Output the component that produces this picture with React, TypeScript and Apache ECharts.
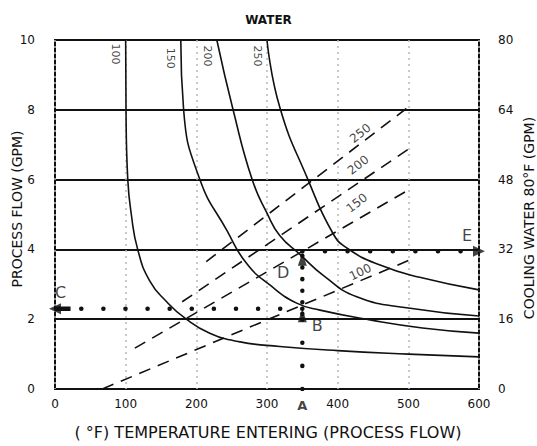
import React, { useEffect, useRef } from "react";
import * as echarts from "echarts";

// ---- Axis ticks ----
const xMin = 0, xMax = 600, xStep = 100;
const yMin = 0, yMax = 10, yStep = 2;
const y2Min = 0, y2Max = 80, y2Step = 16;

// ---- Solid curves (process flow vs temperature), labelled by curve value ----
const curveNames = ["100", "150", "200", "250"];
const curve100 = [[100, 10], [100.5, 8], [103, 6], [108, 5], [117, 4], [134, 3.1], [158, 2.5], [184, 2.03], [219, 1.6], [262, 1.35], [318, 1.22], [400, 1.1], [500, 1.0], [600, 0.92]];
const curve150 = [[178, 10], [182, 8], [205, 6], [243, 4.55], [271, 3.6], [304, 2.98], [342, 2.46], [375, 2.26], [446, 1.98], [520, 1.75], [600, 1.6]];
const curve200 = [[229, 10], [252, 8], [279, 6], [300, 5.04], [318, 4.4], [347, 3.85], [380, 3.25], [427, 2.64], [500, 2.32], [600, 2.09]];
const curve250 = [[300, 10], [318, 8.08], [358, 6], [393, 4.47], [413, 4.04], [460, 3.55], [516, 3.2], [600, 2.84]];
const curves = [curve100, curve150, curve200, curve250];
const curveLabelPos = [[85, 9.6], [163, 9.48], [216, 9.54], [286, 9.54]];

// ---- Dashed lines (cooling water) ----
const dashNames = ["100", "150", "200", "250"];
const dash100 = [[67, 0], [500, 3.68]];
const dash150 = [[113, 1.17], [500, 5.7]];
const dash200 = [[180, 2.5], [500, 6.87]];
const dash250 = [[214, 3.65], [500, 8.08]];
const dashes = [dash100, dash150, dash200, dash250];
const dashLabelPos = [[432, 3.35], [427, 5.33], [429, 6.42], [432, 7.33]];
const dashLabelRot = [26, 38, 38, 38];

// ---- Worked example path (A -> B -> C, A -> D -> E) ----
const pathC = [[350, 2.3], [0, 2.3]];
const pathE = [[350, 3.95], [600, 3.95]];
const pathALow = [[350, 0], [350, 2.15]];
const pathAHigh = [[350, 2.15], [350, 3.95]];
const arrowShaftC = [[22, 2.3], [0, 2.3]];
const upTriangles = [[350, 2.1], [350, 3.72]];
const arrowHeads = [{ value: [0, 2.3], rot: 90 }, { value: [600, 3.95], rot: -90 }];
const letters = [
  { name: "B", value: [371, 1.83] },
  { name: "C", value: [8, 2.77] },
  { name: "D", value: [323, 3.35] },
  { name: "E", value: [583, 4.41] },
];
const letterA = { name: "A", value: [350, 0] };

const FONT = "DejaVu Sans";
const INK = "#111111";

export default function App() {
  const ref = useRef<HTMLDivElement>(null);

  useEffect(() => {
    document.body.style.margin = "0";
    const chart = echarts.init(ref.current!, null, { renderer: "svg" });

    const solidSeries = curves.map((d, i) => ({
      type: "line",
      name: "curve" + curveNames[i],
      data: d,
      smooth: 0.5,
      symbol: "none",
      silent: true,
      lineStyle: { color: INK, width: 1.6 },
      z: 3,
    }));

    const dashSeries = dashes.map((d, i) => ({
      type: "line",
      name: "dash" + dashNames[i],
      data: d,
      symbol: "none",
      silent: true,
      lineStyle: { color: INK, width: 1.6, type: [12, 8] },
      z: 3,
    }));

    const dotLine = (d: number[][], gap: number) => ({
      type: "line",
      data: d,
      symbol: "none",
      silent: true,
      lineStyle: { color: INK, width: 4.5, type: [0.1, gap], cap: "round" },
      z: 4,
    });

    const textSeries = (data: any[], label: any) => ({
      type: "scatter",
      data,
      symbolSize: 0,
      silent: true,
      clip: false,
      itemStyle: { color: INK },
      label: {
        show: true,
        position: "inside",
        formatter: "{b}",
        fontFamily: FONT,
        color: INK,
        textBorderWidth: 0,
        ...label,
      },
      z: 7,
    });

    const option: any = {
      animation: false,
      title: {
        text: "WATER",
        left: "center",
        top: 9,
        textStyle: { fontFamily: FONT, fontSize: 12, fontWeight: "bold", color: INK },
      },
      grid: {
        left: 55,
        right: 58,
        top: 40,
        bottom: 57,
        show: true,
        borderColor: INK,
        borderWidth: 2,
        backgroundColor: "transparent",
      },
      xAxis: {
        type: "value",
        min: xMin,
        max: xMax,
        interval: xStep,
        axisLine: { show: false },
        axisTick: { show: false },
        axisLabel: { fontFamily: FONT, fontSize: 12, color: INK, margin: 9 },
        splitLine: {
          show: true,
          lineStyle: { color: "#b8b8b8", width: 1.5, type: [2, 4] },
        },
      },
      yAxis: [
        {
          type: "value",
          min: yMin,
          max: yMax,
          interval: yStep,
          axisLine: { show: false },
          axisTick: { show: false },
          axisLabel: { fontFamily: FONT, fontSize: 12, color: INK, margin: 20 },
          splitLine: { show: true, lineStyle: { color: INK, width: 1.8 } },
        },
        {
          type: "value",
          position: "right",
          min: y2Min,
          max: y2Max,
          interval: y2Step,
          axisLine: { show: false },
          axisTick: { show: false },
          axisLabel: { fontFamily: FONT, fontSize: 12, color: INK, margin: 19 },
          splitLine: { show: false },
        },
      ],
      graphic: [
        {
          type: "text",
          x: 268,
          y: 432,
          style: {
            text: "( °F) TEMPERATURE ENTERING (PROCESS FLOW)",
            fontFamily: FONT,
            fontSize: 16,
            fill: INK,
            align: "center",
            verticalAlign: "middle",
          },
        },
        {
          type: "text",
          x: 17,
          y: 209,
          rotation: Math.PI / 2,
          style: {
            text: "PROCESS FLOW (GPM)",
            fontFamily: FONT,
            fontSize: 14,
            fill: INK,
            align: "center",
            verticalAlign: "middle",
          },
        },
        {
          type: "text",
          x: 529,
          y: 218,
          rotation: Math.PI / 2,
          style: {
            text: "COOLING WATER 80°F (GPM)",
            fontFamily: FONT,
            fontSize: 14,
            fill: INK,
            align: "center",
            verticalAlign: "middle",
          },
        },
      ],
      series: [
        ...solidSeries,
        ...dashSeries,
        dotLine(pathC, 22),
        dotLine(pathE, 22.5),
        dotLine(pathALow, 23),
        dotLine(pathAHigh, 11.5),
        {
          type: "line",
          data: arrowShaftC,
          symbol: "none",
          silent: true,
          lineStyle: { color: INK, width: 4.5 },
          z: 5,
        },
        {
          type: "scatter",
          data: upTriangles,
          symbol: "triangle",
          symbolSize: [9, 13],
          itemStyle: { color: INK },
          silent: true,
          clip: false,
          z: 6,
        },
        {
          type: "scatter",
          data: arrowHeads.map((a) => ({ value: a.value, symbolRotate: a.rot })),
          symbol: "triangle",
          symbolSize: [11, 12],
          itemStyle: { color: INK },
          silent: true,
          clip: false,
          z: 6,
        },
        textSeries(letters, { fontSize: 16 }),
        textSeries([letterA], { fontSize: 13, fontWeight: "bold", offset: [0, 16] }),
        textSeries(
          curveLabelPos.map((p, i) => ({ name: curveNames[i], value: p })),
          { fontSize: 11, rotate: -90 }
        ),
        textSeries(
          dashLabelPos.map((p, i) => ({
            name: dashNames[i],
            value: p,
            label: { rotate: dashLabelRot[i] },
          })),
          { fontSize: 12 }
        ),
      ],
    };

    chart.setOption(option);
    return () => chart.dispose();
  }, []);

  return <div ref={ref} style={{ width: 537, height: 446 }} />;
}
